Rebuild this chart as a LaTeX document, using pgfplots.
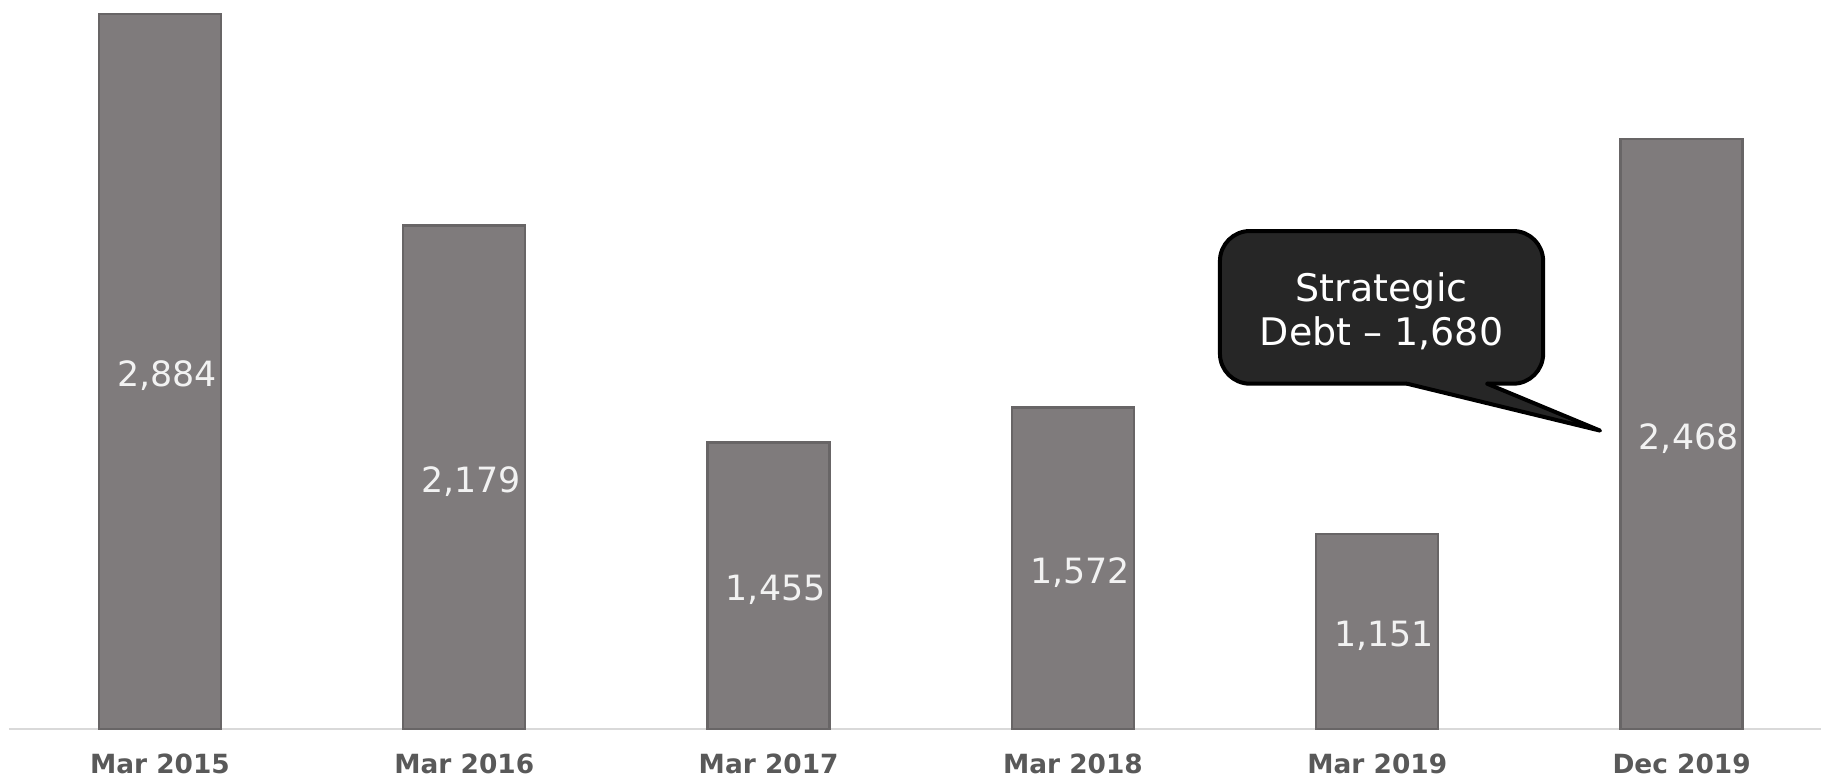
\documentclass[border=0pt]{standalone}
\usepackage{fontspec}
\setmainfont{DejaVu Sans}
\usepackage{pgfplots}
\usepackage{pgfplotstable}
\pgfplotsset{compat=1.18}
\definecolor{barfill}{HTML}{7F7B7C}
\definecolor{baredge}{HTML}{686566}
\definecolor{bartop}{HTML}{9A9697}
\definecolor{axisgray}{HTML}{D9D9D9}
\definecolor{ticktext}{HTML}{595959}
\definecolor{calloutfill}{HTML}{262626}

\pgfplotstableread{
x v lab
0 2884 {2,884}
1 2179 {2,179}
2 1455 {1,455}
3 1572 {1,572}
4 1151 {1,151}
5 2468 {2,468}
}\debtdata

\begin{document}
\begin{tikzpicture}
\begin{axis}[
  scale only axis,
  width=906pt, height=364.5pt,
  xmin=-0.496, xmax=5.458,
  ymin=500, ymax=2931,
  axis y line=none,
  axis x line*=bottom,
  x axis line style={draw=axisgray, line width=1.2pt, -},
  major tick length=0pt,
  xtick={0,1,2,3,4,5},
  xticklabels={Mar 2015, Mar 2016, Mar 2017, Mar 2018, Mar 2019, Dec 2019},
  xticklabel style={font=\fontsize{13.2}{15}\selectfont\bfseries, text=ticktext, anchor=base, yshift=-22.5pt, inner sep=0pt},
  clip=false,
]
\addplot[ybar, bar width=61pt, bar shift=0pt, fill=barfill, draw=baredge, line width=1.2pt]
  table[x=x, y=v] {\debtdata};
\addplot[draw=none, mark=none, nodes near coords, point meta=explicit symbolic,
  every node near coord/.append style={anchor=center, inner sep=0pt, xshift=3.5pt, yshift=-2.2pt, text=white!95!black, font=\fontsize{17.4}{19}\selectfont}]
  table[x=x, y expr=(\thisrow{v}+500)/2, meta=lab] {\debtdata};
% callout
\draw[fill=calloutfill, draw=black, line width=2pt, rounded corners=15pt]
  (axis cs:3.483,1651.4) rectangle (axis cs:4.545,2160.6);
\fill[calloutfill] (axis cs:4.098,1651.4) -- (axis cs:4.732,1495) -- (axis cs:4.361,1651.4)
  -- (axis cs:4.361,1665) -- (axis cs:4.098,1665) -- cycle;
\draw[black, line width=2pt, line join=round, line cap=round]
  (axis cs:4.098,1651.4) -- (axis cs:4.732,1495) -- (axis cs:4.361,1651.4);
\node[align=center, text=white, inner sep=0pt, font=\fontsize{19}{22.3}\selectfont]
  at (axis cs:4.014,1893) {Strategic\\Debt – 1,680};
\coordinate (SW) at (rel axis cs:0,0);
\coordinate (NE) at (rel axis cs:1,1);
\end{axis}
\pgfresetboundingbox
\useasboundingbox ([xshift=-4.5pt, yshift=-25pt]SW) rectangle (NE);
\end{tikzpicture}
\end{document}
